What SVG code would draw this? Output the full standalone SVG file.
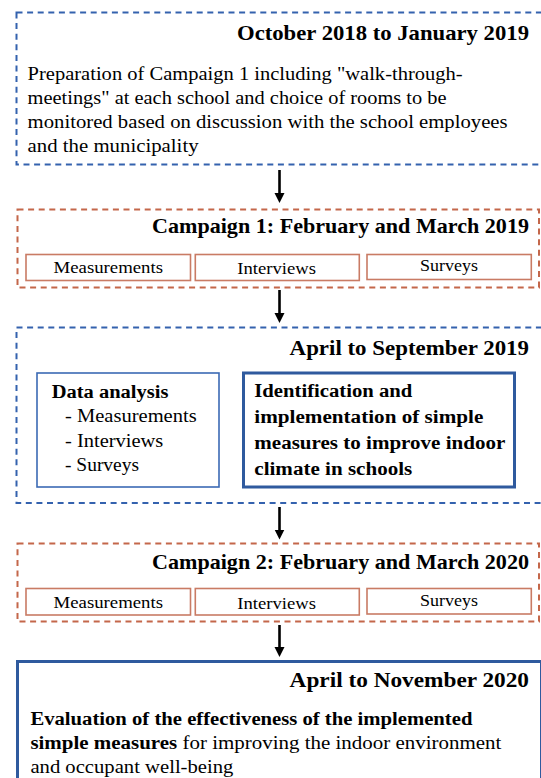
<svg xmlns="http://www.w3.org/2000/svg" width="541" height="778" viewBox="0 0 541 778">
  <style>
    text { font-family: "Liberation Serif", "Times New Roman", serif; fill: #000; }
    .title { font-size: 21px; font-weight: bold; text-anchor: end; }
    .body { font-size: 18.7px; }
    .lbl { font-size: 17.5px; text-anchor: middle; }
    .b { font-weight: bold; }
    .bluedash { fill: #fff; stroke: #3462AE; stroke-width: 2; stroke-dasharray: 6 4.6; }
    .orangedash { fill: #fff; stroke: #C4674A; stroke-width: 2; stroke-dasharray: 6 4.6; }
    .sub { fill: #fff; stroke: #C97B64; stroke-width: 1.6; }
    .thin { fill: #fff; stroke: #3B6AB4; stroke-width: 1.6; }
    .thick { fill: #fff; stroke: #2F5A9E; stroke-width: 3; }
    .conn { stroke: #000; stroke-width: 2.6; fill: none; }
  </style>
  <defs>
    <marker id="ah" markerUnits="userSpaceOnUse" markerWidth="11" markerHeight="11" viewBox="0 0 11 11" refX="2" refY="5.5" orient="auto">
      <path d="M0,0.5 L10,5.5 L0,10.5 Z" fill="#000"/>
    </marker>
  </defs>

  <g id="phase1">
    <rect class="bluedash" x="16.5" y="12.5" width="540" height="152"/>
    <text class="title" x="529" y="40" textLength="292" lengthAdjust="spacingAndGlyphs">October 2018 to January 2019</text>
    <text class="body" x="27.6" y="80" textLength="435" lengthAdjust="spacingAndGlyphs">Preparation of Campaign 1 including "walk-through-</text>
    <text class="body" x="27.6" y="104" textLength="419" lengthAdjust="spacingAndGlyphs">meetings" at each school and choice of rooms to be</text>
    <text class="body" x="27.6" y="128" textLength="480" lengthAdjust="spacingAndGlyphs">monitored based on discussion with the school employees</text>
    <text class="body" x="27.6" y="152" textLength="171" lengthAdjust="spacingAndGlyphs">and the municipality</text>
  </g>

  <g id="campaign1">
    <rect class="orangedash" x="17.5" y="209.5" width="521.5" height="78"/>
    <text class="title" x="529" y="233" textLength="377" lengthAdjust="spacingAndGlyphs">Campaign 1: February and March 2019</text>
    <g id="c1-measurements">
      <rect class="sub" x="26" y="254.5" width="164.5" height="26"/>
      <text class="lbl" x="108.3" y="273" textLength="109.5" lengthAdjust="spacingAndGlyphs">Measurements</text>
    </g>
    <g id="c1-interviews">
      <rect class="sub" x="195.3" y="254.5" width="164" height="26"/>
      <text class="lbl" x="276.7" y="274" textLength="78.7" lengthAdjust="spacingAndGlyphs">Interviews</text>
    </g>
    <g id="c1-surveys">
      <rect class="sub" x="367" y="254.5" width="164.3" height="25"/>
      <text class="lbl" x="449" y="271" textLength="58" lengthAdjust="spacingAndGlyphs">Surveys</text>
    </g>
  </g>

  <g id="phase2">
    <rect class="bluedash" x="16.5" y="327.5" width="540" height="175.5"/>
    <text class="title" x="529" y="355" textLength="239.4" lengthAdjust="spacingAndGlyphs">April to September 2019</text>
    <g id="data-analysis">
      <rect class="thin" x="37" y="373" width="182" height="114"/>
      <text class="body b" x="51.7" y="398" textLength="116.7" lengthAdjust="spacingAndGlyphs">Data analysis</text>
      <text class="body" x="65" y="422" textLength="131.7" lengthAdjust="spacingAndGlyphs">- Measurements</text>
      <text class="body" x="65" y="447" textLength="98.3" lengthAdjust="spacingAndGlyphs">- Interviews</text>
      <text class="body" x="65" y="471" textLength="74" lengthAdjust="spacingAndGlyphs">- Surveys</text>
    </g>
    <g id="identification">
      <rect class="thick" x="243.5" y="373" width="271" height="114"/>
      <text class="body b" x="254.3" y="397" font-size="20" textLength="158" lengthAdjust="spacingAndGlyphs">Identification and</text>
      <text class="body b" x="254.3" y="423" font-size="20" textLength="229" lengthAdjust="spacingAndGlyphs">implementation of simple</text>
      <text class="body b" x="254.3" y="449" font-size="20" textLength="251" lengthAdjust="spacingAndGlyphs">measures to improve indoor</text>
      <text class="body b" x="254.3" y="475" font-size="20" textLength="158" lengthAdjust="spacingAndGlyphs">climate in schools</text>
    </g>
  </g>

  <g id="campaign2">
    <rect class="orangedash" x="17.5" y="543.5" width="521.5" height="78"/>
    <text class="title" x="529" y="568.5" textLength="377" lengthAdjust="spacingAndGlyphs">Campaign 2: February and March 2020</text>
    <g id="c2-measurements">
      <rect class="sub" x="26" y="588.5" width="164.5" height="26.5"/>
      <text class="lbl" x="108.3" y="607.5" textLength="109.5" lengthAdjust="spacingAndGlyphs">Measurements</text>
    </g>
    <g id="c2-interviews">
      <rect class="sub" x="195.3" y="588.5" width="164" height="26.5"/>
      <text class="lbl" x="276.7" y="608.5" textLength="78.7" lengthAdjust="spacingAndGlyphs">Interviews</text>
    </g>
    <g id="c2-surveys">
      <rect class="sub" x="367" y="588.5" width="164.3" height="25.5"/>
      <text class="lbl" x="449" y="605.5" textLength="58" lengthAdjust="spacingAndGlyphs">Surveys</text>
    </g>
  </g>

  <g id="phase3">
    <rect class="thick" x="17.5" y="661.5" width="524" height="200"/>
    <text class="title" x="529" y="687" textLength="239.4" lengthAdjust="spacingAndGlyphs">April to November 2020</text>
    <text class="body b" x="30.4" y="725" textLength="442" lengthAdjust="spacingAndGlyphs">Evaluation of the effectiveness of the implemented</text>
    <text class="body" x="30.4" y="749" textLength="471" lengthAdjust="spacingAndGlyphs"><tspan class="b">simple measures</tspan> for improving the indoor environment</text>
    <text class="body" x="30.4" y="773" textLength="203" lengthAdjust="spacingAndGlyphs">and occupant well-being</text>
  </g>

  <g id="connectors">
    <line class="conn" x1="279.5" y1="170" x2="279.5" y2="195" marker-end="url(#ah)"/>
    <line class="conn" x1="279.5" y1="290" x2="279.5" y2="315" marker-end="url(#ah)"/>
    <line class="conn" x1="279.5" y1="507" x2="279.5" y2="531.5" marker-end="url(#ah)"/>
    <line class="conn" x1="279.5" y1="625" x2="279.5" y2="649" marker-end="url(#ah)"/>
  </g>
</svg>
